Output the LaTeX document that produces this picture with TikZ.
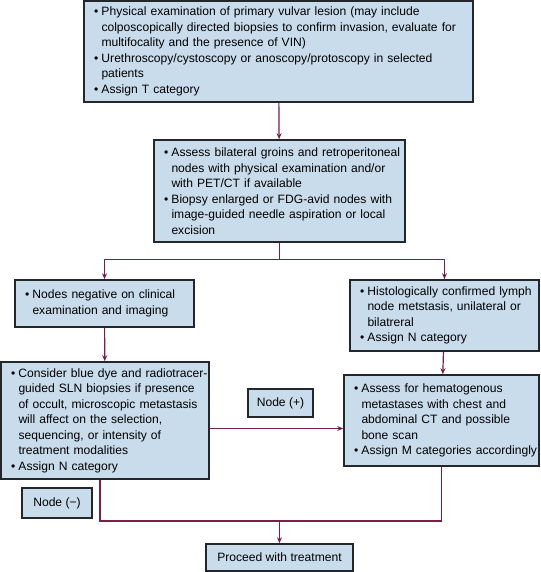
\documentclass[tikz,border=0pt]{standalone}
\usepackage{fontspec}
\setmainfont{Liberation Sans}
\usetikzlibrary{arrows.meta}
\definecolor{boxfill}{HTML}{C9DCEB}
\definecolor{boxline}{HTML}{23272B}
\definecolor{arrline}{HTML}{7B1E4A}
% one line with bullet, one continued line
\newcommand{\bul}[1]{\mbox{\makebox[0.62em][l]{\textbullet}#1}}
\newcommand{\ind}[1]{\mbox{\hspace*{0.62em}#1}}
\tikzset{
  box/.style={draw=boxline,fill=boxfill,line width=1.6pt,inner xsep=10pt,inner ysep=0pt,
    align=left,font=\fontsize{12.1}{15.5}\selectfont},
  arr/.style={draw=arrline,line width=1.2pt,-{Stealth[length=6pt,width=5pt]}},
  lin/.style={draw=arrline,line width=1.2pt}
}
\begin{document}
\begin{tikzpicture}[x=1pt,y=-1pt]
\useasboundingbox (0,0) rectangle (540,572);
% boxes
\node[box,text width=369pt,minimum height=101pt] (exam) at (278.5,51.5) {\bul{Physical examination of primary vulvar lesion (may include}\\
\ind{colposcopically directed biopsies to confirm invasion, evaluate for}\\
\ind{multifocality and the presence of VIN)}\\
\bul{Urethroscopy/cystoscopy or anoscopy/protoscopy in selected}\\
\ind{patients}\\
\bul{Assign T category}};
\node[box,text width=231pt,minimum height=102pt] (groin) at (279.5,191) {\bul{Assess bilateral groins and retroperitoneal}\\
\ind{nodes with physical examination and/or}\\
\ind{with PET/CT if available}\\
\bul{Biopsy enlarged or FDG-avid nodes with}\\
\ind{image-guided needle aspiration or local}\\
\ind{excision}};
\node[box,text width=159pt,minimum height=47pt] (neg) at (104.5,303.5) {\bul{Nodes negative on clinical}\\
\ind{examination and imaging}};
\node[box,text width=169pt,minimum height=71pt] (pos) at (444.5,315.5) {\bul{Histologically confirmed lymph}\\
\ind{node metstasis, unilateral or}\\
\ind{bilatreral}\\
\bul{Assign N category}};
\node[box,text width=188pt,minimum height=117pt] (sln) at (105,420.5) {\bul{Consider blue dye and radiotracer-}\\
\ind{guided SLN biopsies if presence}\\
\ind{of occult, microscopic metastasis}\\
\ind{will affect on the selection,}\\
\ind{sequencing, or intensity of}\\
\ind{treatment modalities}\\
\bul{Assign N category}};
\node[box,text width=175pt,minimum height=91pt] (meta) at (441.5,420.5) {\bul{Assess for hematogenous}\\
\ind{metastases with chest and}\\
\ind{abdominal CT and possible}\\
\ind{bone scan}\\
\bul{Assign M categories accordingly}};
\node[box,align=center,minimum width=65pt,minimum height=28pt,inner xsep=0pt] (nplus) at (280.5,403) {Node (+)};
\node[box,align=center,minimum width=70pt,minimum height=30pt,inner xsep=0pt] (nminus) at (57,503) {Node (−)};
\node[box,align=center,minimum width=147pt,minimum height=27pt,inner xsep=0pt] (treat) at (279.5,557.5) {Proceed with treatment};
% arrows
\draw[arr] (exam) -- (groin);
\draw[lin] (groin.south) -- ++(0,17) coordinate (split);
\draw[arr] (split) -| (neg.north);
\draw[arr] (split) -| (pos.north);
\draw[arr] (neg) -- (sln);
\draw[arr] (pos) -- (meta);
\draw[arr] ([yshift=-8pt]sln.east) -- ([yshift=-8pt]meta.west);
\coordinate (merge) at (279.5,521);
\draw[lin] ([xshift=-5pt]sln.south) |- (merge) -| (meta.south);
\draw[arr] (merge) -- (treat);
\end{tikzpicture}
\end{document}
